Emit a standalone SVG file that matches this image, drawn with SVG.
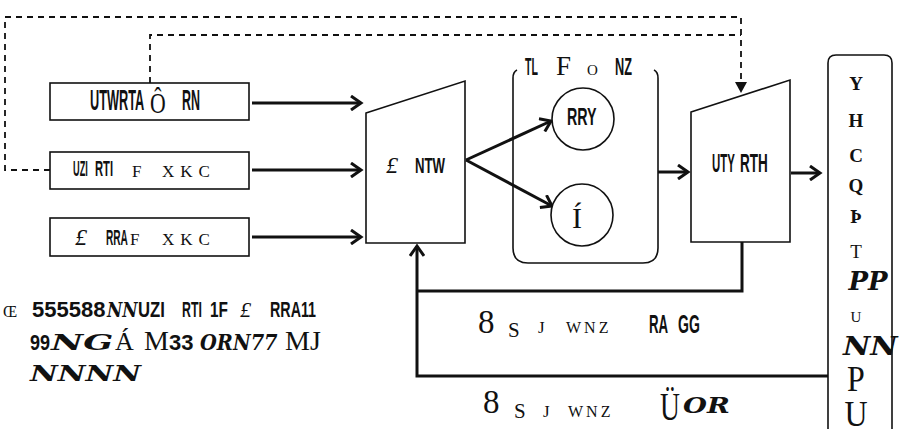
<svg xmlns="http://www.w3.org/2000/svg" width="899" height="429" viewBox="0 0 899 429">
<style>
.box{fill:#fff;stroke:#111;stroke-width:1.6}
.ln{fill:none;stroke:#111;stroke-width:3}
.dash{fill:none;stroke:#111;stroke-width:1.8;stroke-dasharray:6 5}
.sn{font-family:"Liberation Sans",sans-serif;font-weight:bold;fill:#111}
.sf{font-family:"Liberation Serif",serif;fill:#111}
.bi{font-family:"DejaVu Serif",serif;font-weight:bold;font-style:italic;fill:#111}
</style>
<defs>
<marker id="ah" markerWidth="14" markerHeight="16" refX="11" refY="8" orient="auto" markerUnits="userSpaceOnUse">
<path d="M1,1 L11,8 L1,15" fill="none" stroke="#111" stroke-width="3"/>
</marker>
<marker id="tri" markerWidth="14" markerHeight="14" refX="7" refY="12" orient="0" markerUnits="userSpaceOnUse">
<path d="M1,1 L13,1 L7,12 Z" fill="#111"/>
</marker>
</defs>
<g id="connectors">
<path class="dash" d="M50,170 H5 V17 H741 V93" marker-end="url(#tri)"/>
<path class="dash" d="M150,83 V35 H741"/>
<path class="ln" d="M252,103 H361" marker-end="url(#ah)"/>
<path class="ln" d="M252,170 H361" marker-end="url(#ah)"/>
<path class="ln" d="M252,237 H361" marker-end="url(#ah)"/>
<path class="ln" d="M466,160 L551,121" marker-end="url(#ah)"/>
<path class="ln" d="M466,160 L552,206" marker-end="url(#ah)"/>
<path class="ln" d="M658,172 H688" marker-end="url(#ah)"/>
<path class="ln" d="M791,173 H820" marker-end="url(#ah)"/>
<path class="ln" d="M742,242 V291 H417"/>
<path class="ln" d="M828,376 H417 V246" marker-end="url(#ah)"/>
</g>
<g id="input1">
<rect class="box" x="50" y="83" width="199" height="37"/>
<text class="sn" transform="translate(90,110) scale(0.44,1)" font-size="29">UTWRTA</text>
<text class="sf" transform="translate(150,113) scale(0.75,1)" font-size="29">Ô</text>
<text class="sn" transform="translate(182,110) scale(0.43,1)" font-size="29">RN</text>
</g>
<g id="input2">
<rect class="box" x="50" y="152" width="199" height="37"/>
<text class="sn" transform="translate(73,176) scale(0.42,1)" font-size="22">UZI</text>
<text class="sn" transform="translate(95,176) scale(0.51,1)" font-size="22">RTI</text>
<text class="sf" x="132" y="177" font-size="17">F</text>
<text class="sf" x="162" y="177" font-size="17" letter-spacing="6">XKC</text>
</g>
<g id="input3">
<rect class="box" x="50" y="218" width="199" height="38"/>
<text class="sf" x="75" y="245" font-size="24" font-style="italic">£</text>
<text class="sn" transform="translate(106,245) scale(0.46,1)" font-size="22">RRA</text>
<text class="sf" x="130" y="245" font-size="17">F</text>
<text class="sf" x="162" y="245" font-size="17" letter-spacing="6">XKC</text>
</g>
<g id="encoder">
<polygon class="box" points="366,113 465,81 465,243 366,243"/>
<text class="sf" x="386" y="173" font-size="24" font-style="italic">£</text>
<text class="sn" transform="translate(415,173) scale(0.6,1)" font-size="22">NTW</text>
</g>
<g id="container">
<path d="M513,78 V248 Q513,263 528,263 H643 Q658,263 658,248 V78 Q658,72 654,70" fill="none" stroke="#111" stroke-width="1.6"/>
<path d="M513,78 Q513,72 517,70" fill="none" stroke="#111" stroke-width="1.6"/>
<text class="sn" transform="translate(525,75) scale(0.44,1)" font-size="24">TL</text>
<text class="sf" x="556" y="75" font-size="27">F</text>
<text class="sf" x="587" y="75" font-size="15">O</text>
<text class="sn" transform="translate(615,75) scale(0.53,1)" font-size="24">NZ</text>
</g>
<g id="nodeA">
<circle class="box" cx="583" cy="119" r="31"/>
<text class="sn" transform="translate(567,125) scale(0.62,1)" font-size="23">RRY</text>
</g>
<g id="nodeB">
<circle class="box" cx="582" cy="215" r="31"/>
<text class="sf" x="572" y="228" font-size="30">Í</text>
</g>
<g id="decoder">
<polygon class="box" points="691,112 790,80 790,242 691,242"/>
<text class="sn" transform="translate(712,172) scale(0.44,1)" font-size="26">UTY</text>
<text class="sn" transform="translate(740,172) scale(0.52,1)" font-size="26">RTH</text>
</g>
<g id="output">
<path class="box" d="M828,432 V63 Q828,55 836,55 H884 Q892,55 892,63 V432"/>
<g class="sf" font-size="19" font-weight="bold" text-anchor="middle">
<text x="856" y="90">Y</text>
<text x="856" y="127">H</text>
<text x="856" y="162">C</text>
<text x="856" y="192">Q</text>
<text x="856" y="223">Þ</text>
<text x="856" y="258" font-weight="normal">T</text>
</g>
<text class="bi" x="868" y="290" font-size="26" text-anchor="middle">PP</text>
<text class="sf" x="856" y="322" font-size="15" text-anchor="middle">U</text>
<text class="bi" transform="translate(843,355) scale(1.15,1)" font-size="26">NN</text>
<text class="sf" transform="translate(856,391) scale(1,1.12)" font-size="32" text-anchor="middle">P</text>
<text class="sf" transform="translate(856,426) scale(1,1.12)" font-size="32" text-anchor="middle">U</text>
</g>
<g id="labels">
<text class="sf" x="478" y="333" font-size="33">8</text>
<text class="sf" x="508" y="337" font-size="21">S</text>
<text class="sf" x="538" y="333" font-size="17">J</text>
<text class="sf" x="566" y="333" font-size="16" letter-spacing="3">WNZ</text>
<text class="sn" transform="translate(649,333) scale(0.51,1)" font-size="26">RA</text>
<text class="sn" transform="translate(678,333) scale(0.54,1)" font-size="26">GG</text>
<text class="sf" x="483" y="413" font-size="33">8</text>
<text class="sf" x="514" y="418" font-size="21">S</text>
<text class="sf" x="543" y="417" font-size="17">J</text>
<text class="sf" x="568" y="417" font-size="16" letter-spacing="3">WNZ</text>
<text class="sf" transform="translate(660,420) scale(0.69,1)" font-size="40">Ü</text>
<text class="bi" transform="translate(683,413) scale(1.25,1)" font-size="22">OR</text>
</g>
<g id="note">
<text class="sf" x="3" y="317" font-size="16">Œ</text>
<text class="sn" x="32" y="317" font-size="22">555588</text>
<text class="bi" transform="translate(107,317) scale(0.84,1)" font-size="20">NN</text>
<text class="sn" transform="translate(138,317) scale(0.76,1)" font-size="22">UZI</text>
<text class="sn" transform="translate(182,317) scale(0.56,1)" font-size="22">RTI</text>
<text class="sn" transform="translate(210,317) scale(0.7,1)" font-size="22">1F</text>
<text class="sf" x="240" y="317" font-size="22" font-style="italic">£</text>
<text class="sn" transform="translate(270,317) scale(0.65,1)" font-size="22">RRA11</text>
<text class="sn" transform="translate(30,350) scale(0.82,1)" font-size="22">99</text>
<text class="bi" transform="translate(51,350) scale(1.6,1)" font-size="22">NG</text>
<text class="sf" x="115" y="350" font-size="26">Á</text>
<text class="sf" x="144" y="350" font-size="28">M</text>
<text class="sn" x="169" y="350" font-size="22">33</text>
<text class="bi" transform="translate(200,350) scale(0.88,1)" font-size="22">ORN77</text>
<text class="sf" x="285" y="350" font-size="28">MJ</text>
<text class="bi" transform="translate(30,381) scale(1.38,1)" font-size="22">NNNN</text>
</g>
</svg>
